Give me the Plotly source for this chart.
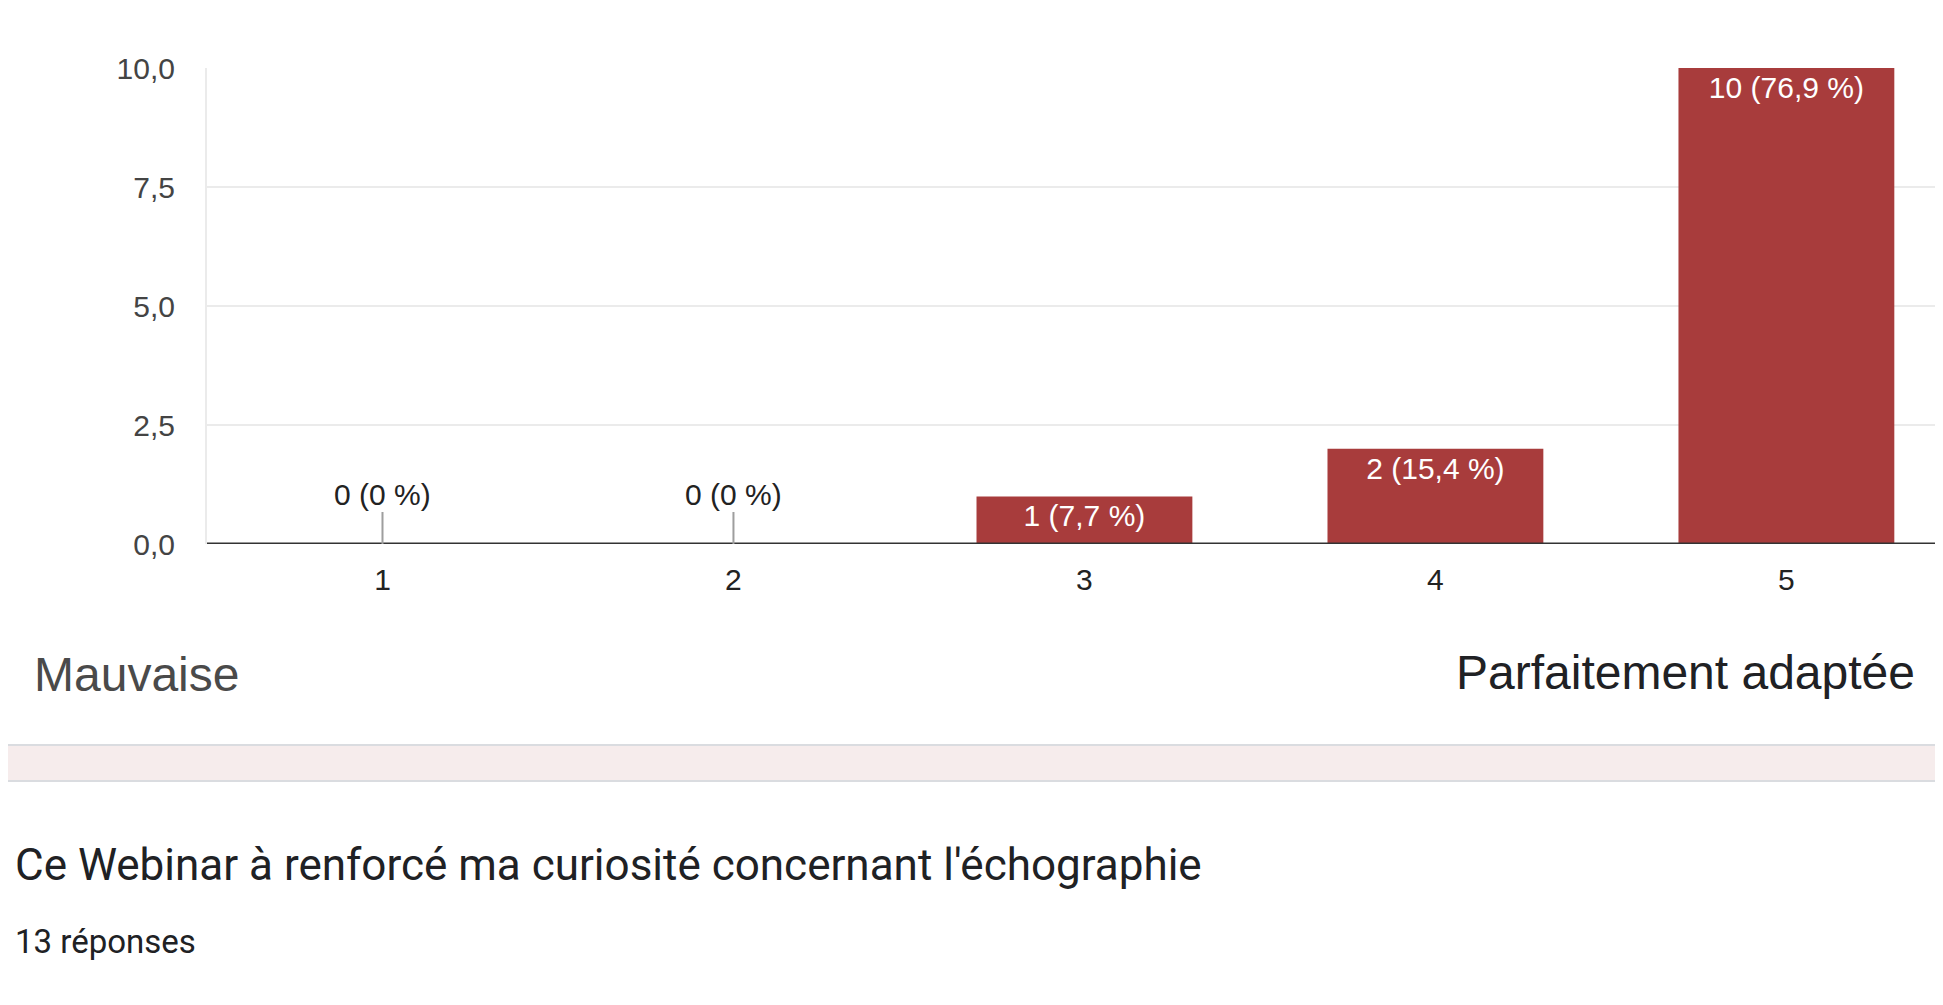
import plotly.graph_objects as go

# Survey answers (scale 1..5)
categories = ["1", "2", "3", "4", "5"]
counts = [0, 0, 1, 2, 10]
total = 13
y_ticks = [0, 2.5, 5, 7.5, 10]
low_label = "Mauvaise"
high_label = "Parfaitement adaptée"
next_question = "Ce Webinar à renforcé ma curiosité concernant l'échographie"
next_answers = "13 réponses"

BAR = "#a83c3c"
FONT = "Arial, Liberation Sans, sans-serif"


def fmt_label(n):
    pct = n / total * 100
    s = f"{pct:.1f}".replace(".", ",")
    if s.endswith(",0"):
        s = s[:-2]
    return f"{n} ({s} %)"


labels = [fmt_label(n) for n in counts]

fig = go.Figure()
fig.add_trace(go.Bar(
    x=categories,
    y=counts,
    width=0.615,
    marker=dict(color=BAR, line=dict(width=0)),
    text=[lab if n > 0 else "" for lab, n in zip(labels, counts)],
    textposition="inside",
    insidetextanchor="end",
    textangle=0,
    textfont=dict(family=FONT, size=30, color="white"),
    hoverinfo="skip",
))

# zero bars: label above with a short grey stem
annotations = []
for i, (n, lab) in enumerate(zip(counts, labels)):
    if n == 0:
        annotations.append(dict(
            x=i, y=0, xref="x", yref="y", text=lab,
            showarrow=True, arrowhead=0, arrowwidth=2, arrowcolor="#9e9e9e",
            ax=0, ay=-50,
            font=dict(family=FONT, size=30, color="#222222"),
        ))

annotations += [
    dict(x=-0.1002, y=-0.2752, xref="paper", yref="paper", text=low_label,
         showarrow=False, xanchor="left", yanchor="middle",
         font=dict(family=FONT, size=48, color="#4a4a4a")),
    dict(x=0.9804, y=-0.271, xref="paper", yref="paper", text=high_label,
         showarrow=False, xanchor="right", yanchor="middle",
         font=dict(family=FONT, size=48, color="#202124")),
    dict(x=-0.1112, y=-0.6744, xref="paper", yref="paper", text=next_question,
         showarrow=False, xanchor="left", yanchor="middle",
         font=dict(family="Roboto", size=44, color="#202124")),
    dict(x=-0.1112, y=-0.8361, xref="paper", yref="paper", text=next_answers,
         showarrow=False, xanchor="left", yanchor="middle",
         font=dict(family="Roboto", size=33, color="#202124")),
]

shapes = [
    # pink separator band
    dict(type="rect", xref="paper", yref="paper", x0=-0.2, x1=1.05,
         y0=-0.4979, y1=-0.4223, fillcolor="#f6ecec",
         line=dict(color="#dadce0", width=2), layer="below"),
    # baseline
    dict(type="line", xref="paper", yref="y", x0=0, x1=1, y0=0, y1=0,
         line=dict(color="#333333", width=3), layer="above"),
]

fig.update_layout(
    width=1943, height=1005,
    margin=dict(l=199, r=0, t=60, b=469),
    paper_bgcolor="white", plot_bgcolor="white",
    separators=", ",
    showlegend=False,
    annotations=annotations,
    shapes=shapes,
    xaxis=dict(
        type="category", range=[-0.5, 4.469],
        showgrid=False, zeroline=False, showline=False, ticks="",
        tickfont=dict(family=FONT, size=30, color="#222222"),
        ticklabelstandoff=15, fixedrange=True,
    ),
    yaxis=dict(
        range=[0, 10], tickvals=y_ticks, tickformat=".1f",
        showgrid=True, gridcolor="#ebebeb", gridwidth=2,
        zeroline=False, showline=True, linecolor="#ebebeb", linewidth=2,
        ticks="", ticklabelstandoff=24,
        tickfont=dict(family=FONT, size=30, color="#444444"),
        layer="below traces", fixedrange=True,
    ),
)

fig.write_html("out.html")
